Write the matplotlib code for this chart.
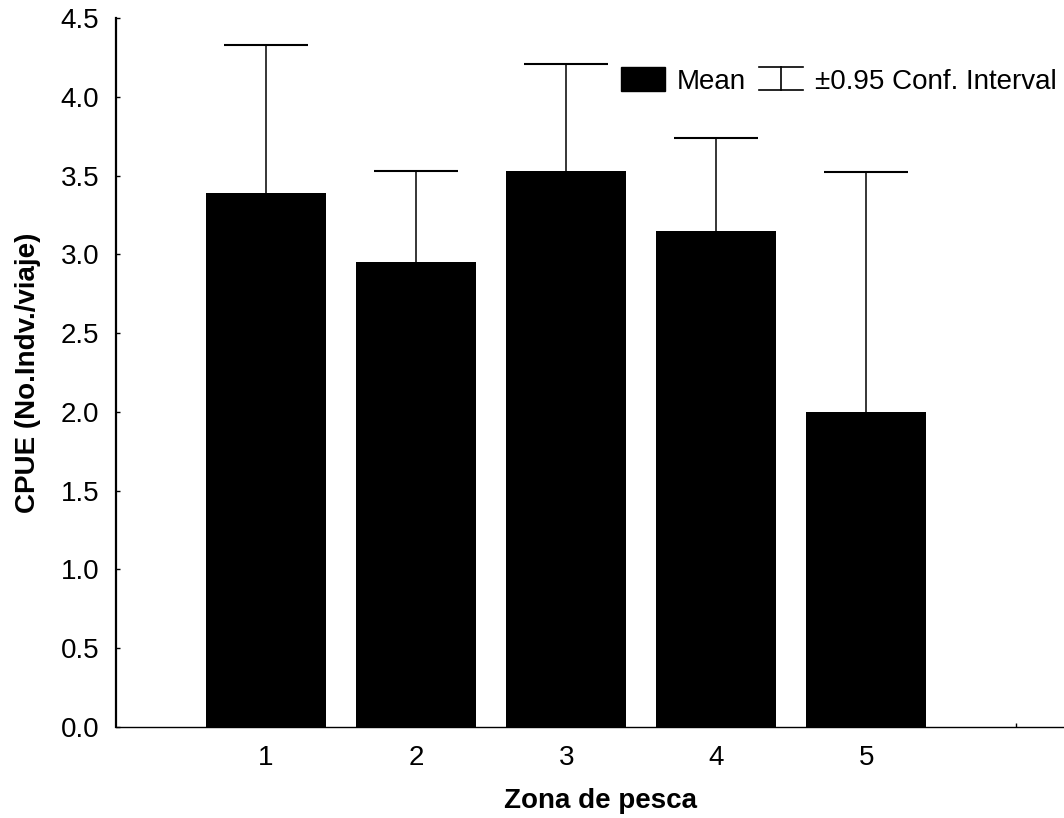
import matplotlib
matplotlib.use("Agg")
import matplotlib.pyplot as plt
import numpy as np
from matplotlib.patches import Patch
from matplotlib.lines import Line2D
from matplotlib.legend_handler import HandlerBase

zones = ["1", "2", "3", "4", "5"]
means = [3.39, 2.95, 3.53, 3.15, 2.00]
upper = [4.33, 3.53, 4.21, 3.74, 3.52]
yticks = [0.0, 0.5, 1.0, 1.5, 2.0, 2.5, 3.0, 3.5, 4.0, 4.5]

plt.rcParams["font.family"] = ["Liberation Sans", "DejaVu Sans"]
plt.rcParams["font.size"] = 20


class IBeamHandler(HandlerBase):
    # draws the confidence interval symbol (cap - stem - cap)
    def create_artists(self, legend, orig_handle, xdescent, ydescent,
                       width, height, fontsize, trans):
        x0, x1 = -xdescent, -xdescent + width
        y0, y1 = -ydescent, -ydescent + height
        xm = (x0 + x1) / 2
        parts = [Line2D([x0, x1], [y1, y1]),
                 Line2D([xm, xm], [y0, y1]),
                 Line2D([x0, x1], [y0, y0])]
        for p in parts:
            p.set_color("black")
            p.set_linewidth(1.2)
            p.set_transform(trans)
        return parts


W, H = 1064, 818
fig = plt.figure(figsize=(W / 100, H / 100), dpi=100)
ax = fig.add_axes([116 / W, 1 - 727 / H, (1084 - 116) / W, (727 - 18) / H])

x = np.arange(1, len(zones) + 1)
means_arr = np.array(means)
upper_arr = np.array(upper)

# only the upper half of the interval is drawn
cap = 0.28
ax.vlines(x, means_arr, upper_arr, color="black", linewidth=1.1, zorder=1)
ax.hlines(upper_arr, x - cap, x + cap, color="black", linewidth=1.5, zorder=1)
ax.bar(x, means_arr, width=0.8, color="black", linewidth=0, zorder=2)

ax.set_xlim(0, 6.45)
ax.set_ylim(0, 4.5)
ax.set_xticks(list(x) + [6])
ax.set_xticklabels(zones + [""])
ax.set_yticks(yticks)
ax.set_yticklabels([f"{v:.1f}" for v in yticks])
ax.tick_params(axis="both", direction="in", length=3, width=1, color="black")
ax.tick_params(axis="y", pad=12)
ax.tick_params(axis="x", pad=13)

for side in ["top", "right"]:
    ax.spines[side].set_visible(False)
ax.spines["left"].set_linewidth(1.6)
ax.spines["bottom"].set_linewidth(1.0)

ax.set_xlabel("Zona de pesca", fontweight="bold", labelpad=12)
ax.set_ylabel("CPUE (No.Indv./viaje)", fontweight="bold", labelpad=14)

mean_handle = Patch(facecolor="black", edgecolor="black")
ci_handle = Line2D([], [])
fig.legend([mean_handle, ci_handle], ["Mean", "±0.95 Conf. Interval"],
           handler_map={ci_handle: IBeamHandler()},
           loc="center left", bbox_to_anchor=(621 / W, 1 - 81 / H),
           ncol=2, frameon=False, borderpad=0, borderaxespad=0,
           handlelength=1.58, handleheight=0.9, handletextpad=0.43,
           columnspacing=0.47)

fig.savefig("out.png", dpi=100)
